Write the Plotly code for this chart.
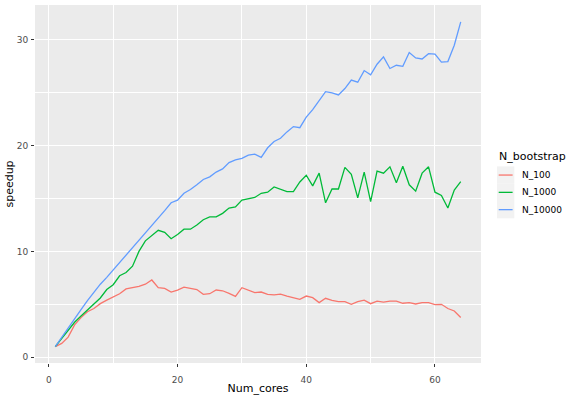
import plotly.graph_objects as go

num_cores = list(range(1, 65))

speedup_100 = [1.0, 1.3, 1.9, 3.05, 3.74, 4.3, 4.6, 5.06, 5.4, 5.7,
               6.0, 6.45, 6.57, 6.7, 6.9, 7.3, 6.57, 6.5, 6.16, 6.35,
               6.63, 6.48, 6.4, 5.94, 6.0, 6.35, 6.28, 6.04, 5.75, 6.57,
               6.3, 6.1, 6.16, 5.94, 5.9, 5.97, 5.78, 5.66, 5.47, 5.78,
               5.63, 5.16, 5.57, 5.38, 5.25, 5.25, 5.0, 5.25, 5.4, 5.06,
               5.3, 5.2, 5.3, 5.3, 5.1, 5.16, 5.03, 5.16, 5.16, 4.97,
               5.0, 4.6, 4.37, 3.75]

speedup_1000 = [1.0, 1.8, 2.55, 3.3, 3.9, 4.45, 5.0, 5.6, 6.4, 6.85,
                7.7, 8.0, 8.6, 10.0, 11.0, 11.5, 12.0, 11.8, 11.2, 11.6,
                12.1, 12.1, 12.5, 13.0, 13.27, 13.27, 13.6, 14.1, 14.2, 14.85,
                15.0, 15.1, 15.5, 15.6, 16.1, 15.9, 15.66, 15.66, 16.57, 17.2,
                16.2, 17.4, 14.6, 15.9, 15.9, 17.95, 17.3, 15.07, 17.5, 14.7,
                17.6, 17.4, 18.0, 16.5, 18.05, 16.3, 15.7, 17.4, 18.0, 15.6,
                15.3, 14.1, 15.8, 16.6]

speedup_10000 = [1.0, 1.9, 2.8, 3.65, 4.5, 5.35, 6.15, 6.9, 7.55, 8.25,
                 8.95, 9.6, 10.25, 10.95, 11.65, 12.35, 13.1, 13.85, 14.6, 14.85,
                 15.5, 15.85, 16.3, 16.8, 17.05, 17.5, 17.8, 18.4, 18.65, 18.8,
                 19.1, 19.2, 18.9, 19.8, 20.4, 20.7, 21.3, 21.8, 21.7, 22.7,
                 23.4, 24.3, 25.1, 25.0, 24.8, 25.4, 26.2, 26.0, 27.1, 26.7,
                 27.7, 28.4, 27.3, 27.6, 27.5, 28.8, 28.3, 28.2, 28.7, 28.65,
                 27.9, 27.95, 29.5, 31.7]

series_names = ["N_100", "N_1000", "N_10000"]
series_values = [speedup_100, speedup_1000, speedup_10000]
series_colors = ["#F8766D", "#00BA38", "#619CFF"]

legend_title = "N_bootstrap"
x_ticks = [0, 20, 40, 60]
y_ticks = [0, 10, 20, 30]

# figure geometry (pixels)
W, H = 576, 396
ML, MR, MT, MB = 35, 95, 5, 33
PW, PH = W - ML - MR, H - MT - MB


def px_x(px):
    return (px - ML) / PW


def px_y(py):
    return (H - MB - py) / PH


fig = go.Figure()
for name, vals, col in zip(series_names, series_values, series_colors):
    fig.add_trace(go.Scatter(x=num_cores, y=vals, mode="lines", name=name,
                             line=dict(color=col, width=1.3), showlegend=False))

font_family = "DejaVu Sans, Liberation Sans, sans-serif"

axis_common = dict(
    showgrid=True, gridcolor="white", gridwidth=1.4,
    zeroline=False, showline=False,
    ticks="outside", ticklen=3, tickwidth=1.1, tickcolor="#333333",
    tickfont=dict(family=font_family, size=9, color="#4D4D4D"),
    minor=dict(showgrid=True, gridcolor="white", gridwidth=0.7),
)

fig.update_xaxes(**axis_common, range=[-2.15, 67.15], tickvals=x_ticks,
                 minor_tickvals=[10, 30, 50], ticklabelstandoff=5,
                 title=dict(text="Num_cores", font=dict(family=font_family, size=11, color="black"), standoff=0))
fig.update_yaxes(**axis_common, range=[-0.55, 33.3], tickvals=y_ticks,
                 minor_tickvals=[5, 15, 25], ticklabelstandoff=1,
                 title=dict(text="speedup", font=dict(family=font_family, size=11, color="black"), standoff=0))

# manual ggplot-style legend
shapes = []
annotations = [dict(text=legend_title, x=px_x(497), y=px_y(156.5), xref="paper", yref="paper",
                    xanchor="left", yanchor="middle", showarrow=False,
                    font=dict(family=font_family, size=11, color="black"))]
key = 17.3
y0 = 166.4
for i, (name, col) in enumerate(zip(series_names, series_colors)):
    top = y0 + i * key
    cy = top + key / 2
    shapes.append(dict(type="rect", xref="paper", yref="paper",
                       x0=px_x(497), x1=px_x(497 + key), y0=px_y(top + key), y1=px_y(top),
                       fillcolor="#F2F2F2", line=dict(width=0), layer="below"))
    shapes.append(dict(type="line", xref="paper", yref="paper",
                       x0=px_x(498.7), x1=px_x(512.6), y0=px_y(cy), y1=px_y(cy),
                       line=dict(color=col, width=1.3)))
    annotations.append(dict(text=name, x=px_x(519.5), y=px_y(cy), xref="paper", yref="paper",
                            xanchor="left", yanchor="middle", showarrow=False,
                            font=dict(family=font_family, size=9, color="black")))

fig.update_layout(
    width=W, height=H,
    margin=dict(l=ML, r=MR, t=MT, b=MB, autoexpand=False),
    paper_bgcolor="white", plot_bgcolor="#EBEBEB",
    font=dict(family=font_family),
    showlegend=False,
    shapes=shapes, annotations=annotations,
)

fig.write_html("out.html")
